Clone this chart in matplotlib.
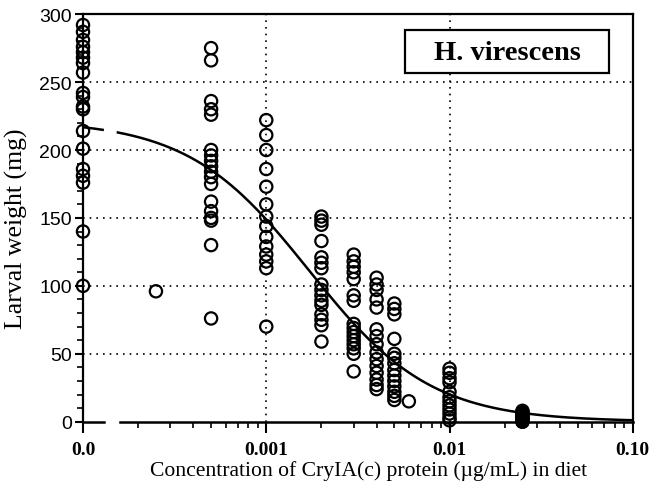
import numpy as np
import matplotlib
matplotlib.use("Agg")
import matplotlib.pyplot as plt
from matplotlib.patches import Rectangle
from matplotlib.ticker import FixedLocator, NullFormatter, LogLocator

# Larval weights (mg) for each CryIA(c) concentration (ug/mL); 0.0 = control
conc = [0.0, 0.00025, 0.0005, 0.001, 0.002, 0.003, 0.004, 0.005, 0.006, 0.01, 0.025]

w_control = [292, 287, 281, 276, 272, 268, 264, 257, 242, 239, 232, 230, 214, 201,
             186, 181, 176, 140, 100]
w_00025 = [96]
w_0005 = [275, 266, 236, 230, 226, 200, 196, 192, 188, 184, 180, 175, 162, 155,
          150, 148, 130, 76]
w_001 = [222, 211, 200, 186, 173, 160, 151, 144, 136, 129, 123, 118, 113, 70]
w_002 = [151, 148, 145, 133, 121, 117, 113, 101, 97, 93, 89, 86, 79, 75, 71, 59]
w_003 = [123, 118, 114, 110, 105, 93, 89, 72, 69, 66, 63, 60, 57, 54, 50, 37]
w_004 = [106, 101, 97, 90, 84, 68, 63, 57, 51, 46, 41, 36, 31, 27, 24]
w_005 = [87, 83, 79, 61, 50, 47, 43, 38, 34, 30, 26, 22, 19, 16]
w_006 = [15]
w_01 = [39, 36, 32, 29, 22, 18, 15, 12, 9, 6, 3, 1]
w_025 = [8, 7, 6, 5, 4, 3, 2, 1, 0, 0]

weights = [w_control, w_00025, w_0005, w_001, w_002, w_003, w_004, w_005, w_006,
           w_01, w_025]

# fitted dose-response curve parameters
top, ec50, hill = 222.0, 0.00172, 1.31

X_ZERO = 1e-4  # where the control (0.0) sits on the broken log axis

fig = plt.figure(figsize=(6.51, 4.89), dpi=100)
ax = fig.add_axes([0.1275, 0.1356, 0.972 - 0.1275, 0.969 - 0.1356])
ax.set_xscale("log")
ax.set_xlim(X_ZERO, 0.1)
ax.set_ylim(0, 300)

# grid
for gx in [0.001, 0.01]:
    ax.axvline(gx, color="black", lw=1.2, ls=(0, (1, 3)), zorder=1)
for gy in [50, 100, 150, 200, 250]:
    ax.axhline(gy, color="black", lw=1.2, ls=(0, (1, 3)), zorder=1)

# points
for c, w in zip(conc, weights):
    xs = np.full(len(w), c if c > 0 else X_ZERO)
    ax.scatter(xs, w, s=78, facecolors="none", edgecolors="black",
               linewidths=1.6, zorder=3, clip_on=False)

# curve, broken at the axis gap
def fit(x):
    return top / (1 + (x / ec50) ** hill)

for lo, hi in [(1.02e-4, 1.28e-4), (1.55e-4, 0.1)]:
    xx = np.logspace(np.log10(lo), np.log10(hi), 200)
    ax.plot(xx, fit(xx), color="black", lw=1.8, zorder=2)

# spines: bottom drawn by hand with a break
ax.spines["bottom"].set_visible(False)
for s in ["left", "right", "top"]:
    ax.spines[s].set_linewidth(1.6)
tr = ax.get_xaxis_transform()
ax.plot([X_ZERO, 1.3e-4], [0, 0], transform=tr, color="black", lw=1.8,
        clip_on=False, zorder=4)
ax.plot([1.6e-4, 0.1], [0, 0], transform=tr, color="black", lw=1.8,
        clip_on=False, zorder=4)

# ticks
ax.xaxis.set_major_locator(FixedLocator([X_ZERO, 0.001, 0.01, 0.1]))
ax.set_xticklabels(["0.0", "0.001", "0.01", "0.10"],
                   fontfamily="Liberation Serif", fontweight="bold", fontsize=14)
ax.xaxis.set_minor_locator(LogLocator(base=10, subs=np.arange(2, 10)))
ax.xaxis.set_minor_formatter(NullFormatter())
ax.tick_params(axis="x", which="major", direction="out", length=8, width=1.5, pad=6)
ax.tick_params(axis="x", which="minor", direction="out", length=4, width=1.2)

ax.set_yticks(np.arange(0, 301, 50))
ax.set_yticks(np.arange(0, 301, 10), minor=True)
ax.set_yticklabels([str(v) for v in range(0, 301, 50)],
                   fontfamily="Liberation Sans", fontsize=14)
ax.tick_params(axis="y", which="major", direction="out", length=6, width=1.5, pad=2)
ax.tick_params(axis="y", which="minor", direction="out", length=4, width=1.2)
ax.tick_params(right=False, top=False)

# axis titles
fig.text(368.5 / 651, 1 - 471 / 489,
         "Concentration of CryIA(c) protein (\u00b5g/mL) in diet",
         ha="center", va="center", fontfamily="Liberation Serif", fontsize=15.6)
fig.text(16 / 651, 1 - 229 / 489, "Larval weight (mg)", rotation=90,
         ha="center", va="center", fontfamily="Liberation Serif", fontsize=18.5)

# species box
ax.add_patch(Rectangle((0.586, 0.855), 0.371, 0.106, transform=ax.transAxes,
                       facecolor="white", edgecolor="black", linewidth=1.6,
                       zorder=5, clip_on=False))
ax.text(0.7715, 0.905, "H. virescens", transform=ax.transAxes, ha="center",
        va="center", fontfamily="Liberation Serif", fontweight="bold",
        fontsize=20.5, zorder=6)

fig.savefig("out.png", dpi=100)
